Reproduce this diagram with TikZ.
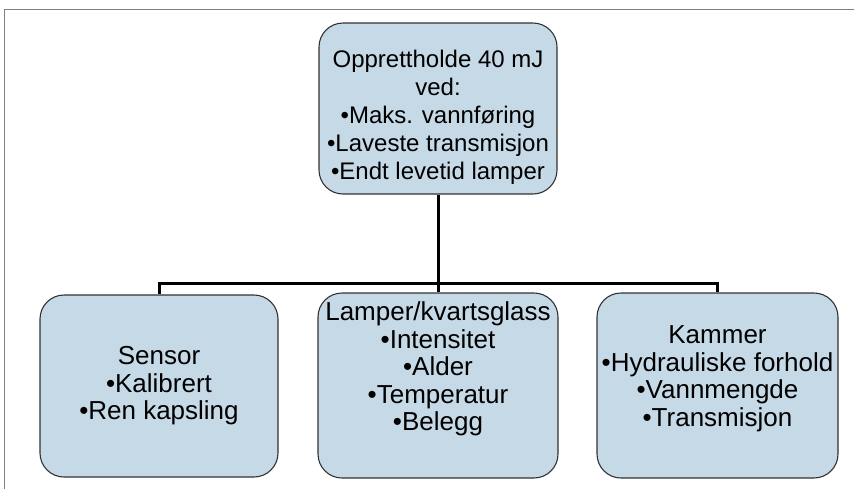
\documentclass[tikz,border=0pt]{standalone}
\usepackage{fontspec}
\setmainfont{Liberation Sans}
\usepackage{tikz}
\usetikzlibrary{positioning,calc}
\definecolor{boxfill}{RGB}{198, 217, 230}
\definecolor{boxline}{RGB}{50, 50, 50}
\definecolor{framecolor}{RGB}{128, 128, 128}

\begin{document}
\begin{tikzpicture}[
    x=1pt, y=-1pt,
    box/.style={rectangle, draw=boxline, line width=1.1pt, fill=boxfill, rounded corners=24pt, inner sep=0pt, align=center, minimum width=240pt, minimum height=185pt, font=\fontsize{26}{27.5}\selectfont},
    conn/.style={line width=3pt, black}
]
    \useasboundingbox (0,0) rectangle (854,488);

    % Outer frame (cut off at right and bottom)
    \draw[framecolor, line width=1.6pt] (4.5,500) -- (4.5,9.5) -- (870,9.5);

    % Main goal
    \node[box, minimum width=238pt, minimum height=171pt, font=\fontsize{24}{28}\selectfont] (goal) at (438,108.5)
        {\parbox[c][147pt][b]{236pt}{\centering Opprettholde 40 mJ\\ved:\\•Maks. vannføring\\•Laveste transmisjon\\•Endt levetid lamper}};

    % Three factors
    \node[box, minimum width=238pt, minimum height=182pt] (sensor) at (159,386) {Sensor\\•Kalibrert\\•Ren kapsling};
    \node[box] (lamper) at (438,385.5)
        {\parbox[c][167pt][t]{238pt}{\centering Lamper/kvartsglass\\•Intensitet\\•Alder\\•Temperatur\\•Belegg}};
    \node[box, minimum width=241pt] (kammer) at (717.5,385.5)
        {\parbox[c][119pt][t]{239pt}{\centering Kammer\\•Hydrauliske forhold\\•Vannmengde\\•Transmisjon}};

    % Connectors
    \coordinate (bus) at (438,283);
    \draw[conn] (goal) -- (bus);
    \draw[conn] (sensor.north) |- (bus) -| (kammer.north);
    \draw[conn] (bus) -- (lamper);
\end{tikzpicture}
\end{document}
